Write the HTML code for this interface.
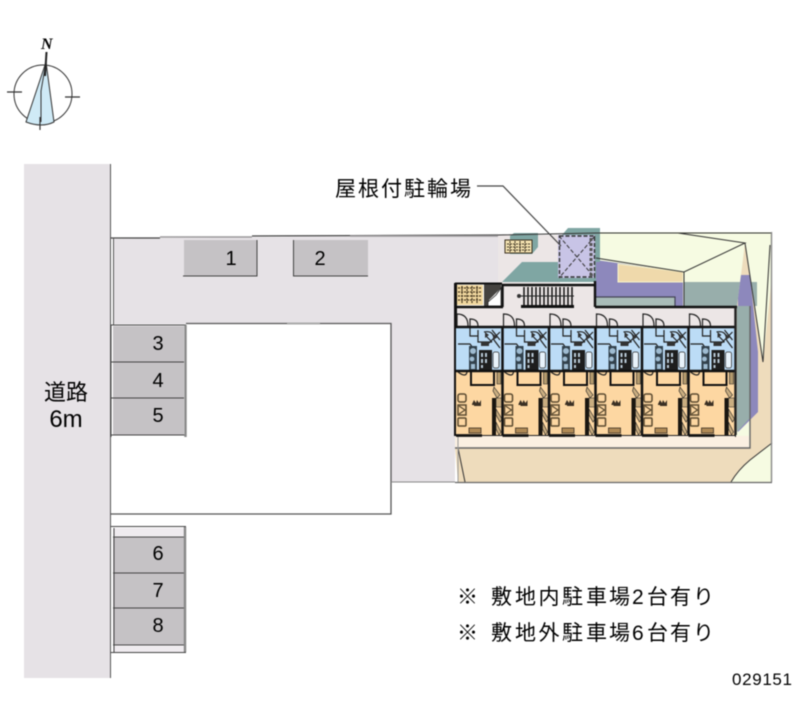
<!DOCTYPE html>
<html><head><meta charset="utf-8"><style>
html,body{margin:0;padding:0;background:#fff}
svg{display:block;filter:blur(.4px)}
text{font-family:"Liberation Sans","Noto Sans CJK JP",sans-serif;fill:#000}
</style></head><body>
<svg width="800" height="727" viewBox="0 0 800 727" xmlns="http://www.w3.org/2000/svg">
<defs>
<g id="u">
  <rect x="0" y="21" width="47" height="44" fill="#bcdcf6"/>
  <rect x="0" y="65" width="47" height="65" fill="#fdd7a2"/>
  <g fill="none" stroke="#222" stroke-width="1.200">
    <path d="M1 20V8Q12 8 12 20M14 20V13Q22 13 22 20"/>
    <path d="M14 21V30H22M22 24V36H36M28 26Q38 24 38 34"/>
    <path d="M2 38H14L17 42"/>
    <path d="M32 38L44 26M36 24L44 34M30 30L36 36M38 34L44 42"/>
    <path d="M2 66Q10 72 11 66"/>
    <rect x="2" y="88" width="8" height="8" rx="2" stroke-width="1.500" stroke="#5a4a30"/>
    <rect x="2" y="99" width="8" height="10" stroke-width="1.500" stroke="#5a4a30"/>
    <rect x="2" y="112" width="8" height="8" rx="1" stroke-width="1.500" stroke="#5a4a30"/>
    <path d="M3 100L9 104L3 108" stroke="#5a4a30"/>
  </g>
  <path d="M23 44h13v20H23z" fill="#1e1e1e"/>
  <path d="M25 47h2v4h-2zM29 47h2v4h-2zM25 53h2v4h-2zM29 53h2v4h-2zM25 59h2v3h-2z" fill="#b9c9d6"/>
  <rect x="37" y="46" width="6" height="16" rx="2" fill="#e8f3fb" stroke="#333" stroke-width=".8"/>
  <path d="M13 40h8v24h-8z" fill="#33424d"/>
  <circle cx="17" cy="45" r="3" fill="#9fbcd2"/>
  <circle cx="16" cy="53" r="2.400" fill="#9fbcd2"/>
  <path d="M15 58h4v5h-4z" fill="#9fbcd2"/>
  <path d="M29 26l4 3-4 3zM37 28l5 3-5 3zM25 36h8v4h-8z" fill="#333"/>
  <path d="M14 66h2v12h21V66h2v14H14z" fill="#111"/>
  <path d="M36 80h10v50H36z" fill="#fdd7a2"/>
  <path d="M36 92h4v38h-4z" fill="#1a1610"/>
  <path d="M41 66h4v12h-4z" fill="#b49a6d" stroke="#222" stroke-width=".6"/>
  <path d="M38 81l6 8-3 3-4-7zM40 92h6v9h-6zM40 103l6 10-2 3-4-7zM40 116l5 10-2 3-3-6z" fill="#c9ad80" stroke="#222" stroke-width=".6"/>
  <path d="M16 98l2-4 2 3 1-3 2 3 2-3v5h-9zM18 99h7v1h-7z" fill="#3b3024"/>
  <rect x="13" y="122" width="12" height="5" fill="#b08a55" stroke="#3b3024" stroke-width=".8"/>
</g>
</defs>

<rect x="24" y="164" width="86" height="514" fill="#e6e2e6"/>
<path d="M110.500 164V678" stroke="#555" stroke-width="1"/>

<path d="M114 239L160 238L498 235V300H455V482H391V324H114Z" fill="#e6e2e6"/>
<path d="M111 238H160M252 236L498 235" stroke="#444" stroke-width="1.200" fill="none"/>
<path d="M160 237H252M350 236H498" stroke="#9a989a" stroke-width="1.500" fill="none"/>
<path d="M113.500 238V325" stroke="#555" stroke-width="1"/>
<path d="M186 323.500H391V514H111" fill="none" stroke="#555" stroke-width="1.300"/>
<path d="M287 323.500H320" stroke="#aaa" stroke-width="2"/>
<path d="M391 482H455" stroke="#888" stroke-width="1"/>

<g fill="#c5c2c5">
<rect x="184" y="240" width="73" height="36"/>
<rect x="294" y="240" width="74" height="36"/>
<rect x="113" y="326" width="71" height="109"/>
<rect x="113" y="537" width="71" height="108"/>
</g>
<rect x="113" y="528" width="71" height="8" fill="#efebef"/>
<rect x="113" y="646" width="71" height="6" fill="#efebef"/>
<g fill="none" stroke="#444" stroke-width="1">
<path d="M183 276H257V240"/>
<path d="M293.500 240V276H368"/>
<path d="M111 325H186M111 362H184M111 398H184M111 435H186M111 325V437"/>
<path d="M111 526.500H186M113 537H184M113 573H184M113 608H184M113 645H184M111 652.500H186M114 528V652"/>
</g>
<path d="M185.500 325V437M185 527V652" stroke="#888" stroke-width="2.400"/>

<path d="M498 235H560V284H498Z" fill="#ece6e6"/>
<path d="M596 232H771V482H596Z" fill="#f6fbe2"/>
<path d="M684 282H757V306H684Z" fill="#98aeab"/>
<path d="M745 243L763 362L771 285V443L750 460L731 482H458L455 448H750V306H737L741 275Z" fill="#eedcbc"/>
<path d="M455 436H749V448H455Z" fill="#fbf0e2"/>
<path d="M772 443L750 460Q738 470 731 482H772Z" fill="#f6fbe2"/>
<path d="M596 260L683 272V306H596Z" fill="#8d88bc"/>
<path d="M618 264L683 272V282H618Z" fill="#efd9ab" stroke="#f6f3cc"/>
<path d="M596 297H675V306H596Z" fill="#a9bcb8"/>
<path d="M596 297H675V306" fill="none" stroke="#445" stroke-width="1.200"/>
<path d="M741 275H750L758 352V412L738 432V298Z" fill="#8d88bc"/>
<path d="M737 306H750V418L737 432Z" fill="#98aeab"/>
<path d="M502 282L522 262H558V282Z" fill="#7fa6a3"/>
<path d="M510 236L514 233H538V247L532 254H510Z" fill="#7fa6a3"/>
<rect x="505" y="240" width="27" height="13" fill="#f4e2b0" stroke="#3a3020"/>
<path d="M507 244h23M507 247h23M507 250h23M510 241v11M515 241v11M520 241v11M525 241v11" stroke="#3a3020" stroke-width="1" stroke-dasharray="2 1" fill="none"/>
<path d="M562 235L568 228H600V262H595V235Z" fill="#7fa6a3"/>
<rect x="558" y="235" width="38" height="47" fill="#7fa6a3"/>
<rect x="558" y="235" width="37" height="43" fill="#c8c4e6"/>
<path d="M559 236L595 278M595 236L559 278" stroke="#333" stroke-dasharray="4 2" stroke-width="1"/>
<rect x="559.500" y="236" width="35" height="41" fill="none" stroke="#333" stroke-dasharray="4 2" stroke-width="1.400"/>
<path d="M591 238V276" stroke="#555" stroke-width="3" stroke-dasharray="3 2"/>

<g fill="none" stroke="#333" stroke-width="1">
<path d="M498 235L596 233L678 233"/>
<path d="M596 258L684 272L745 243L678 233"/>
<path d="M684 272V306"/>
<path d="M745 243L763 362L770 245"/>
<path d="M772 443L750 460Q738 470 731 482"/>
<path d="M458 448L465 482"/>
<path d="M596 233H772"/>
</g>
<path d="M455 448H750V306" fill="none" stroke="#666" stroke-width="1.400"/>
<path d="M455 482.500H772" stroke="#666" stroke-width="1.200"/>
<path d="M771.500 232V482" stroke="#888" stroke-width="1.400"/>
<path d="M458 436V482" stroke="#999" stroke-width="1"/>

<rect x="455" y="284" width="47" height="23" fill="#fff"/>
<rect x="457" y="285" width="26" height="20" fill="#f2d9a0"/>
<path d="M458 288h24M458 292h24M458 296h24M458 300h24M462 286v18M467 286v18M472 286v18M477 286v18" stroke="#43361f" stroke-width="1.200" stroke-dasharray="2 1"/>
<path d="M484 284h17v4l-12 12v6H484Z" fill="#44423f"/>
<path d="M488 302L496 295L501 288V306H488Z" fill="#fff" stroke="#222" stroke-width=".8"/>
<rect x="503" y="286" width="91" height="22" fill="#ece6e6"/>
<path d="M521 305h53v3h-53z" fill="#111"/>
<path d="M524 287v18M528 287v18M532 287v18M536 287v18M540 287v18M544 287v18M548 287v18M552 287v18M556 287v18M560 287v18M564 287v18M568 287v18M572 287v18" stroke="#111" stroke-width="1.500"/>
<path d="M518 296H574" stroke="#222"/><circle cx="519" cy="296" r="2" fill="#333"/>
<path d="M502.500 307V285H595M595 281V307" stroke="#111" stroke-width="2.400" fill="none"/>
<path d="M455 283.500H502" stroke="#111" stroke-width="2"/>
<rect x="456" y="308" width="279" height="19" fill="#ece6e6"/>
<path d="M455.500 283V436" stroke="#111" stroke-width="3"/>
<path d="M456 307H503M595 307H737" stroke="#111" stroke-width="2.500"/>
<use href="#u" x="456" y="306"/>
<use href="#u" x="502.500" y="306"/>
<use href="#u" x="549" y="306"/>
<use href="#u" x="595.500" y="306"/>
<use href="#u" x="642" y="306"/>
<use href="#u" x="688.500" y="306"/>
<path d="M456 327H736M456 371H736" stroke="#111" stroke-width="2.400"/>
<path d="M502.500 326V435M549 326V435M595.500 326V435M642 326V435M688.500 326V435" stroke="#111" stroke-width="2.500"/>
<path d="M456 435.500H736" stroke="#222" stroke-width="1"/>
<path d="M456 435.500H736" stroke="#111" stroke-width="2.800" stroke-dasharray="26 20.500"/>
<path d="M735.500 307V435" stroke="#222" stroke-width="2.500"/>

<path d="M477 186H503L561 246" fill="none" stroke="#444" stroke-width="1.200"/>

<g font-size="20" text-anchor="middle">
<text x="231" y="265">1</text><text x="320" y="265">2</text>
<text x="158" y="350">3</text><text x="158" y="387">4</text><text x="158" y="422">5</text>
<text x="158" y="560">6</text><text x="158" y="597">7</text><text x="158" y="632">8</text>
</g>
<text x="335 358 381 404 427 450" y="196" font-size="21">屋根付駐輪場</text>
<text x="44 66" y="400" font-size="22">道路</text>
<text x="66" y="427" font-size="24" text-anchor="middle">6m</text>
<text x="457 491 515 538.500 562 586 609 632 647 670 693" y="604" font-size="21">※敷地内駐車場2台有り</text>
<text x="457 491 515 538.500 562 586 609 632 647 670 693" y="640" font-size="21">※敷地外駐車場6台有り</text>
<text x="732" y="685" font-size="17" textLength="60" lengthAdjust="spacing">029151</text>

<circle cx="43" cy="94" r="29" fill="none" stroke="#333" stroke-width="1"/>
<path d="M46 62L26 122Q42 128 54 122Z" fill="#cfeaf6" stroke="#333" stroke-width="1"/>
<path d="M41 122V91L46 62" fill="none" stroke="#333" stroke-width="1"/>
<path d="M46.500 52L45 76" stroke="#222" stroke-width="2" fill="none"/>
<path d="M7 92H22M65 97H80M40 117V130" stroke="#333" stroke-width="1.200" fill="none"/>
<text x="41" y="49" font-size="16" font-weight="bold" font-style="italic" style="font-family:'Liberation Serif',serif">N</text>
</svg>
</body></html>
